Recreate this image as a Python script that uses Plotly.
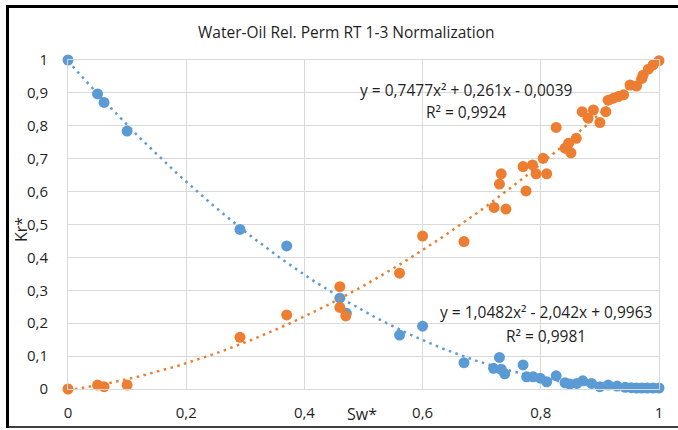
import numpy as np
import plotly.graph_objects as go

# Blue series (decreasing, Kro*)
kro_sw = [0, 0.05, 0.061, 0.10, 0.291, 0.370, 0.460, 0.471, 0.561, 0.600, 0.670,
          0.720, 0.730, 0.733, 0.739, 0.770, 0.776, 0.787, 0.799, 0.810, 0.826,
          0.841, 0.849, 0.861, 0.871, 0.886, 0.900, 0.914, 0.929, 0.943, 0.953,
          0.962, 0.971, 0.980, 0.990, 1.0]
kro_kr = [1.0, 0.897, 0.871, 0.784, 0.485, 0.435, 0.276, 0.230, 0.164, 0.191, 0.080,
          0.063, 0.096, 0.060, 0.046, 0.073, 0.037, 0.037, 0.033, 0.022, 0.040,
          0.019, 0.015, 0.017, 0.025, 0.017, 0.007, 0.012, 0.009, 0.005, 0.004,
          0.003, 0.003, 0.003, 0.003, 0.003]

# Orange series (increasing, Krw*)
krw_sw = [0, 0.05, 0.061, 0.10, 0.291, 0.370, 0.460, 0.460, 0.470, 0.561, 0.600,
          0.670, 0.721, 0.730, 0.733, 0.741, 0.770, 0.775, 0.786, 0.792, 0.804,
          0.810, 0.826, 0.841, 0.847, 0.851, 0.860, 0.870, 0.880, 0.889, 0.900,
          0.910, 0.914, 0.923, 0.931, 0.940, 0.951, 0.962, 0.971, 0.973, 0.982,
          0.990, 1.0]
krw_kr = [0.0, 0.012, 0.007, 0.012, 0.157, 0.225, 0.311, 0.248, 0.222, 0.352, 0.465,
          0.448, 0.552, 0.623, 0.654, 0.547, 0.676, 0.602, 0.681, 0.654, 0.701,
          0.654, 0.795, 0.732, 0.747, 0.718, 0.762, 0.843, 0.823, 0.848, 0.810,
          0.843, 0.878, 0.884, 0.889, 0.894, 0.924, 0.921, 0.944, 0.954, 0.972,
          0.985, 0.998]

# Polynomial trendline coefficients (highest power first), as printed on chart
kro_coef = [1.0482, -2.042, 0.9963]
krw_coef = [0.7477, 0.261, -0.0039]
kro_eq = ["y = 1,0482x² - 2,042x + 0,9963", "R² = 0,9981"]
krw_eq = ["y = 0,7477x² + 0,261x - 0,0039", "R² = 0,9924"]

title = "Water-Oil Rel. Perm RT 1-3 Normalization"
x_title = "Sw*"
y_title = "Kr*"

BLUE = "#5B9BD5"
ORANGE = "#ED7D31"
GRID = "#D9D9D9"
TXT = "#1F1F1F"
FONT = "Open Sans"

xs = np.linspace(0, 1, 201)

fig = go.Figure()
fig.add_trace(go.Scatter(x=kro_sw, y=kro_kr, mode="markers",
                         marker=dict(color=BLUE, size=11, line=dict(width=0)),
                         cliponaxis=False))
fig.add_trace(go.Scatter(x=krw_sw, y=krw_kr, mode="markers",
                         marker=dict(color=ORANGE, size=11, line=dict(width=0)),
                         cliponaxis=False))
fig.add_trace(go.Scatter(x=xs, y=np.polyval(kro_coef, xs), mode="lines",
                         line=dict(color=BLUE, width=2.5, dash="2.5px,4.5px")))
fig.add_trace(go.Scatter(x=xs, y=np.polyval(krw_coef, xs), mode="lines",
                         line=dict(color=ORANGE, width=2.5, dash="2.5px,4.5px")))

W, H = 678, 430
L, R, T, B = 68, 19, 60, 41
pw, ph = W - L - R, H - T - B

def px(xp):
    return (xp - L) / pw

def py(yp):
    return (H - B - yp) / ph

def ann(text, x, y, size, angle=0):
    return dict(text=text, x=px(x), y=py(y), xref="paper", yref="paper",
                xanchor="center", yanchor="middle", showarrow=False,
                textangle=angle, font=dict(size=size, color=TXT, family=FONT))

annotations = [
    ann(title, 346, 32, 15.5),
    ann(x_title, 362, 414, 16),
    ann(y_title, 21, 230, 16, -90),
    ann(krw_eq[0], 466, 90, 15.5),
    ann(krw_eq[1], 466, 112, 15.5),
    ann(kro_eq[0], 546, 312, 15.5),
    ann(kro_eq[1], 546, 336, 15.5),
]

shapes = [
    dict(type="line", xref="paper", yref="paper", x0=px(7.5), x1=px(7.5),
         y0=py(5), y1=py(428), line=dict(color="black", width=3)),
    dict(type="line", xref="paper", yref="paper", x0=px(6), x1=px(678),
         y0=py(6.5), y1=py(6.5), line=dict(color="black", width=3)),
    dict(type="line", xref="paper", yref="paper", x0=px(6), x1=px(678),
         y0=py(427), y1=py(427), line=dict(color="black", width=1.5)),
]

fig.update_layout(
    width=W, height=H, margin=dict(l=L, r=R, t=T, b=B, autoexpand=False),
    paper_bgcolor="white", plot_bgcolor="white",
    showlegend=False, separators=",.",
    font=dict(family=FONT, size=15, color=TXT),
    annotations=annotations, shapes=shapes,
)
fig.update_xaxes(range=[0, 1], dtick=0.2, tick0=0, showgrid=True, gridcolor=GRID,
                 gridwidth=1, showline=True, mirror=True, linecolor=GRID, linewidth=1,
                 zeroline=False, ticks="", ticklabelstandoff=10, automargin=False,
                 tickfont=dict(size=15, color=TXT, family=FONT))
fig.update_yaxes(range=[0, 1], dtick=0.1, tick0=0, showgrid=True, gridcolor=GRID,
                 gridwidth=1, showline=True, mirror=True, linecolor=GRID, linewidth=1,
                 zeroline=False, ticks="", ticklabelstandoff=16, automargin=False,
                 tickfont=dict(size=15, color=TXT, family=FONT))

fig.write_html("out.html")
